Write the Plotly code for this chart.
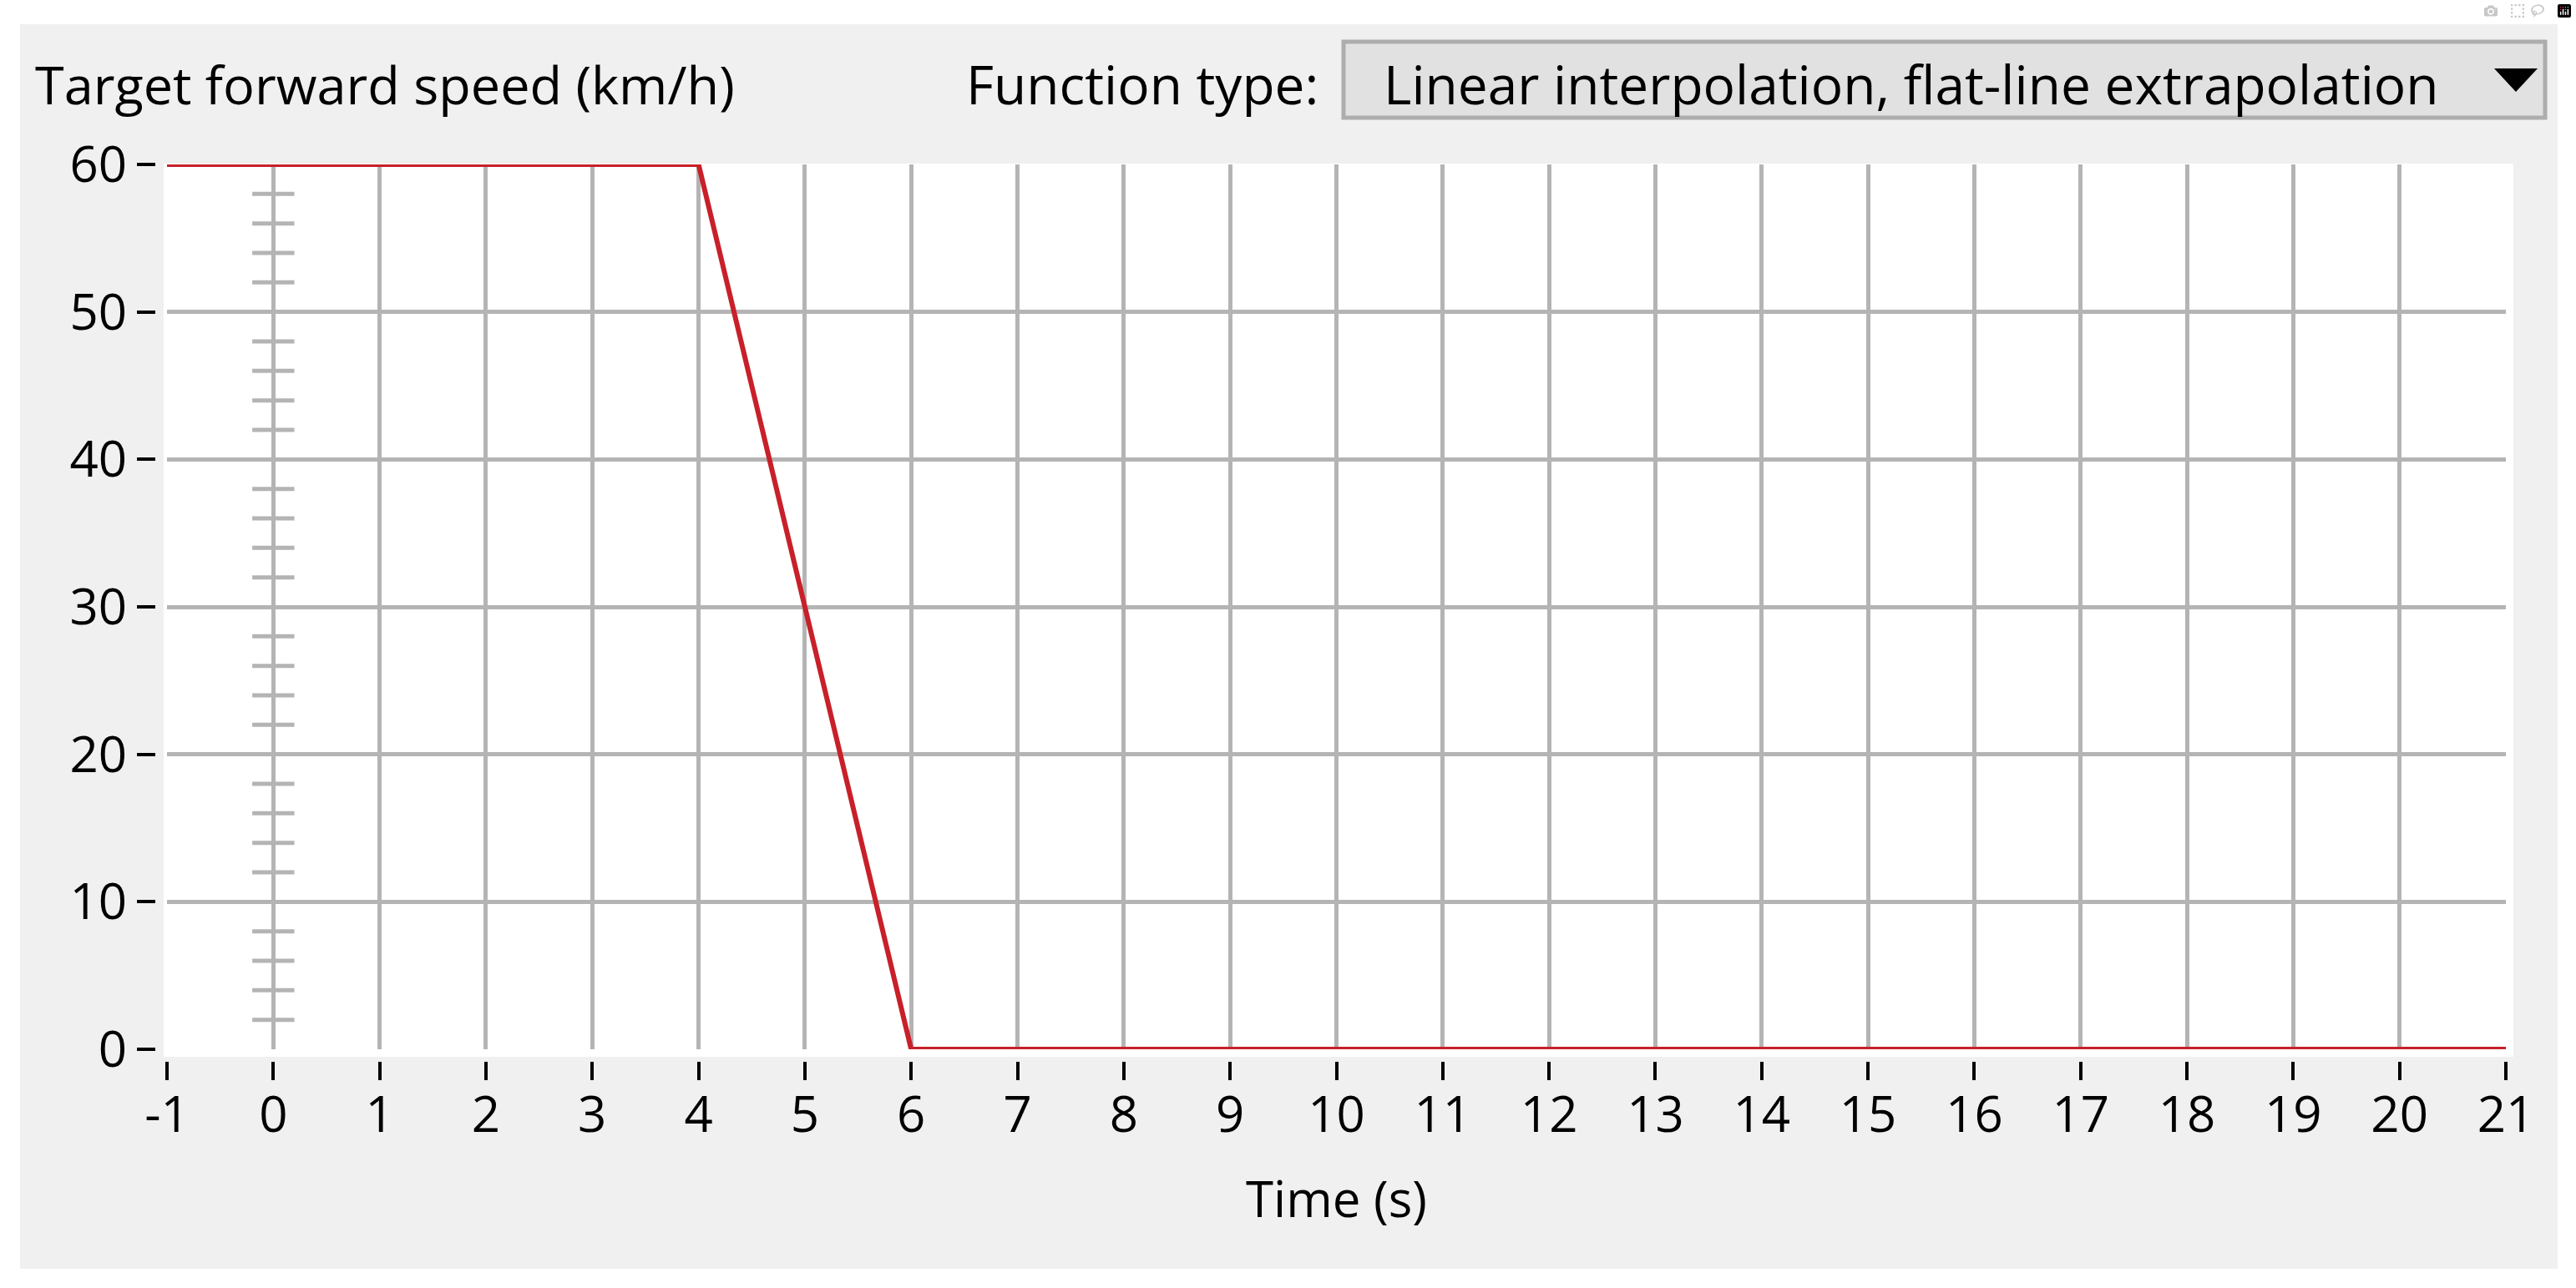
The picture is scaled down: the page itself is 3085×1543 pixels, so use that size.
import plotly.graph_objects as go

# --- data ---
time_s = [-1, 4, 6, 21]
speed_kmh = [60, 60, 0, 0]
x_ticks = list(range(-1, 22))
y_ticks = [0, 10, 20, 30, 40, 50, 60]
minor_y = [2, 4, 6, 8, 12, 14, 16, 18, 22, 24, 26, 28, 32, 34, 36, 38,
           42, 44, 46, 48, 52, 54, 56, 58]
title_text = "Target forward speed (km/h)"
func_label = "Function type:"
func_value = "Linear interpolation, flat-line extrapolation"
x_title = "Time (s)"

# --- page geometry (pixels) ---
W, H = 3085, 1543
FONT = "Open Sans"
GRID = "#b4b4b4"


def px(x):
    return x / W


def py(y):
    return 1 - y / H


X0, X1 = 200, 3001   # x = -1 and x = 21
Y0, Y1 = 1257, 197   # y = 0 and y = 60

fig = go.Figure()

# minor ticks drawn along the x=0 line
fig.add_trace(go.Scatter(
    x=[0] * len(minor_y), y=minor_y, mode="markers", hoverinfo="skip",
    marker=dict(symbol="line-ew", size=36, line=dict(width=5, color=GRID)),
    showlegend=False,
))

fig.add_trace(go.Scatter(
    x=time_s, y=speed_kmh, mode="lines", cliponaxis=False,
    line=dict(color="#c8202a", width=6), showlegend=False,
))

# empty trace so the tick-only axes exist
fig.add_trace(go.Scatter(x=[None], y=[None], xaxis="x2", yaxis="y2",
                         showlegend=False, hoverinfo="skip"))

tickfont = dict(family=FONT, size=60, color="black")
topfont = dict(family=FONT, size=64, color="black")

fig.update_layout(
    width=W, height=H,
    margin=dict(l=0, r=0, t=0, b=0, pad=0),
    paper_bgcolor="white",
    plot_bgcolor="white",
    showlegend=False,
    xaxis=dict(domain=[px(X0), px(X1)], range=[-1, 21], tickvals=x_ticks,
               showgrid=True, gridcolor=GRID, gridwidth=5, ticks="",
               showticklabels=False, zeroline=False, showline=False,
               fixedrange=True, automargin=False),
    yaxis=dict(domain=[py(Y0), py(Y1)], range=[0, 60], tickvals=y_ticks,
               showgrid=True, gridcolor=GRID, gridwidth=5, ticks="",
               showticklabels=False, zeroline=False, showline=False,
               fixedrange=True, automargin=False),
    xaxis2=dict(overlaying="x", range=[-1, 21], tickvals=x_ticks,
                ticktext=[str(v) for v in x_ticks],
                anchor="free", position=py(1271), side="bottom",
                ticks="outside", ticklen=22, tickwidth=4, tickcolor="black",
                ticklabelstandoff=-10,
                showgrid=False, zeroline=False, showline=False,
                tickfont=tickfont, fixedrange=True, automargin=False),
    yaxis2=dict(overlaying="y", range=[0, 60], tickvals=y_ticks,
                anchor="free", position=px(186), side="left",
                ticks="outside", ticklen=22, tickwidth=4, tickcolor="black",
                showgrid=False, zeroline=False, showline=False,
                tickfont=tickfont, fixedrange=True, automargin=False),
    shapes=[
        # grey control panel
        dict(type="rect", xref="paper", yref="paper", layer="below",
             x0=px(24), x1=px(3063), y0=py(1520), y1=py(29),
             fillcolor="#f0f0f0", line=dict(width=0)),
        # white plot area
        dict(type="rect", xref="paper", yref="paper", layer="below",
             x0=px(196), x1=px(3010), y0=py(1266), y1=py(196),
             fillcolor="white", line=dict(width=0)),
        # drop-down box
        dict(type="rect", xref="paper", yref="paper",
             x0=px(1609), x1=px(3048), y0=py(141), y1=py(50),
             fillcolor="#e1e1e1", line=dict(width=5, color="#adadad")),
        # drop-down arrow
        dict(type="path", xref="paper", yref="paper",
             path=f"M {px(2987)},{py(82)} L {px(3039)},{py(82)} "
                  f"L {px(3013)},{py(110)} Z",
             fillcolor="black", line=dict(width=0)),
    ],
    annotations=[
        dict(text=title_text, x=px(40), y=py(101), xref="paper", yref="paper",
             xanchor="left", yanchor="middle", showarrow=False,
             font=dict(family=FONT, size=63, color="black")),
        dict(text=func_label, x=px(1155), y=py(101), xref="paper",
             yref="paper", xanchor="left", yanchor="middle", showarrow=False,
             font=topfont),
        dict(text=func_value, x=px(1655), y=py(101), xref="paper",
             yref="paper", xanchor="left", yanchor="middle", showarrow=False,
             font=topfont),
        dict(text=x_title, x=px(1600), y=py(1435), xref="paper", yref="paper",
             xanchor="center", yanchor="middle", showarrow=False,
             font=dict(family=FONT, size=60, color="black")),
    ],
)

fig.write_html("out.html", post_script="document.body.style.margin='0';")
